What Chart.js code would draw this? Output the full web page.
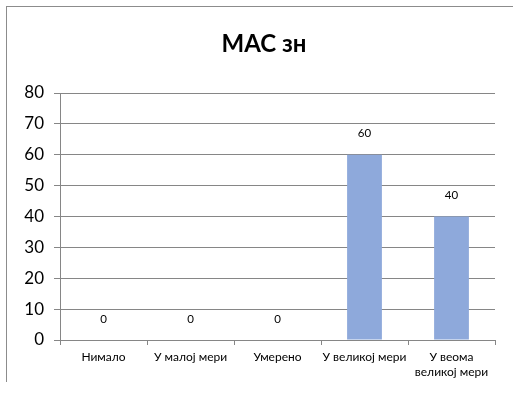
<!DOCTYPE html>
<html>
<head>
<meta charset="utf-8">
<script src="https://cdn.jsdelivr.net/npm/chart.js@4"></script>
<style>
    body { margin: 0; background: #fff; }
    #wrap { position: relative; width: 513px; height: 396px; }
    #frame {
        position: absolute; left: 6px; top: 6px; width: 507px; height: 376px;
        border-left: 1px solid #8c8c8c; border-top: 1px solid #8c8c8c;
        box-sizing: border-box; pointer-events: none;
    }
</style>
</head>
<body>
<div id="wrap">
    <canvas id="myChart" width="513" height="396"></canvas>
    <div id="frame"></div>
</div>
<script>
const chartTitle = 'МАС зн';
const categories = ['Нимало', 'У малој мери', 'Умерено', 'У великој мери', ['У веома', 'великој мери']];
const values = [0, 0, 0, 60, 40];
const yTicks = [0, 10, 20, 30, 40, 50, 60, 70, 80];

const FONT = "Lato, 'Noto Sans', sans-serif";

// Draws value labels above each bar
const valueLabels = {
    id: 'valueLabels',
    afterDatasetsDraw(chart) {
        const ctx = chart.ctx;
        const meta = chart.getDatasetMeta(0);
        ctx.save();
        ctx.font = '11.5px ' + FONT;
        ctx.fillStyle = '#000';
        ctx.textAlign = 'center';
        ctx.textBaseline = 'middle';
        meta.data.forEach((bar, i) => {
            ctx.fillText(String(values[i]), bar.x, bar.y - 21);
        });
        ctx.restore();
    }
};

// Title centred on the chart frame rather than the canvas
const frameTitle = {
    id: 'frameTitle',
    afterDraw(chart) {
        const ctx = chart.ctx;
        ctx.save();
        ctx.font = 'bold 24px ' + FONT;
        ctx.fillStyle = '#000';
        ctx.textAlign = 'center';
        ctx.textBaseline = 'middle';
        ctx.fillText(chartTitle, 264, 44);
        ctx.restore();
    }
};

const ctx = document.getElementById('myChart').getContext('2d');
const chart = new Chart(ctx, {
    type: 'bar',
    data: {
        labels: categories,
        datasets: [{
            label: chartTitle,
            data: values,
            backgroundColor: '#8EA9DB',
            borderWidth: 0,
            barPercentage: 0.4,
            categoryPercentage: 1.0
        }]
    },
    options: {
        responsive: false,
        animation: false,
        layout: { padding: { left: 0, right: 18, top: 93, bottom: 0 } },
        plugins: {
            legend: { display: false },
            tooltip: { enabled: false },
            title: { display: false }
        },
        scales: {
            x: {
                grid: {
                    offset: true,
                    drawOnChartArea: false,
                    drawTicks: true,
                    tickLength: 5,
                    color: '#868686'
                },
                border: { color: '#868686' },
                ticks: {
                    color: '#000',
                    font: { family: FONT, size: 12, lineHeight: 1.25 },
                    padding: 5,
                    maxRotation: 0,
                    autoSkip: false
                },
                afterFit: (scale) => { scale.height = 56; }
            },
            y: {
                min: 0,
                max: 80,
                afterBuildTicks: (scale) => { scale.ticks = yTicks.map(v => ({ value: v })); },
                grid: {
                    color: '#868686',
                    tickLength: 6
                },
                border: { color: '#868686' },
                ticks: {
                    color: '#000',
                    font: { family: FONT, size: 17 },
                    padding: 10
                },
                afterFit: (scale) => { scale.width = 60; }
            }
        }
    },
    plugins: [valueLabels, frameTitle]
});
</script>
</body>
</html>
